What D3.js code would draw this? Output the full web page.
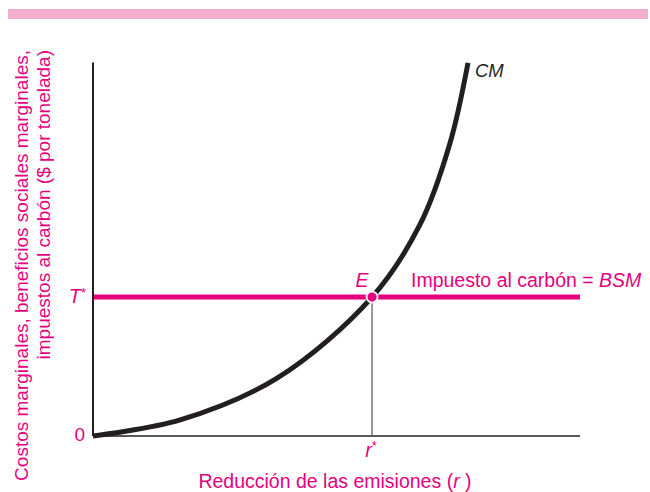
<!DOCTYPE html>
<html><head><meta charset="utf-8">
<script src="https://cdn.jsdelivr.net/npm/d3@7"></script>
<style>body{margin:0;background:#fff}svg{display:block}text{font-family:"Liberation Sans",Arial,sans-serif}</style>
</head><body>
<script>
// Data (abstract units: x = emission reduction 0-100, y = $/ton 0-100)
const cmX = [0, 17.9, 37.8, 57.3, 67.1, 73.3, 77.0];
const cmY = [0, 4.3, 15.5, 37.2, 56.5, 78.4, 99.9];
const taxLevel = [37.2];
const rStar = [57.3];
const xTickLabels = ["r*"];
const yTickLabels = ["0", "T*"];

const W = 650, H = 492;
const svg = d3.select("body").append("svg").attr("width", W).attr("height", H);
const pink = "#e6007e";

const x = d3.scaleLinear().domain([0, 100]).range([93, 580]);
const y = d3.scaleLinear().domain([0, 100]).range([436, 62.5]);

// top band
svg.append("rect").attr("x", 8).attr("y", 9).attr("width", 640).attr("height", 10).attr("fill", "#f3aecd");

// axes lines
svg.append("line").attr("x1", x(0)).attr("x2", x(0)).attr("y1", y(100)).attr("y2", y(0))
  .attr("stroke", "#231f20").attr("stroke-width", 2);
svg.append("line").attr("x1", x(0)).attr("x2", x(100)).attr("y1", y(0)).attr("y2", y(0))
  .attr("stroke", "#231f20").attr("stroke-width", 1.5);

// r* drop line
svg.append("line").attr("x1", x(rStar[0])).attr("x2", x(rStar[0])).attr("y1", y(taxLevel[0])).attr("y2", y(0))
  .attr("stroke", "#555").attr("stroke-width", 1.2);

// tax line
svg.append("line").attr("x1", x(0) + 1).attr("x2", x(100)).attr("y1", y(taxLevel[0])).attr("y2", y(taxLevel[0]))
  .attr("stroke", pink).attr("stroke-width", 5);

// CM curve
const pts = cmX.map((d, i) => [d, cmY[i]]);
svg.append("path").datum(pts)
  .attr("d", d3.line().x(d => x(d[0])).y(d => y(d[1])).curve(d3.curveCatmullRom.alpha(0.5)))
  .attr("fill", "none").attr("stroke", "#231f20").attr("stroke-width", 5).attr("stroke-linecap", "butt");

// point E
svg.append("circle").attr("cx", x(rStar[0])).attr("cy", y(taxLevel[0])).attr("r", 5.5)
  .attr("fill", pink).attr("stroke", "#fff").attr("stroke-width", 1.8);

// tick labels
svg.append("text").attr("x", 85).attr("y", 441).attr("text-anchor", "end")
  .attr("fill", pink).attr("font-size", 19).text(yTickLabels[0]);
svg.append("text").attr("x", 86).attr("y", 303).attr("text-anchor", "end")
  .attr("fill", pink).attr("font-size", 20).attr("font-style", "italic").text("T")
  .append("tspan").attr("font-size", 13).attr("dy", -6).attr("font-style", "normal").text("*");
svg.append("text").attr("x", x(rStar[0]) - 1).attr("y", 457).attr("text-anchor", "middle")
  .attr("fill", pink).attr("font-size", 20).attr("font-style", "italic").text("r")
  .append("tspan").attr("font-size", 13).attr("dy", -7).attr("font-style", "normal").text("*");

// labels
svg.append("text").attr("x", 362).attr("y", 287).attr("text-anchor", "middle")
  .attr("fill", pink).attr("font-size", 19.5).attr("font-style", "italic").text("E");
const lab = svg.append("text").attr("x", 411).attr("y", 287).attr("fill", pink).attr("font-size", 19.5);
lab.append("tspan").text("Impuesto al carbón = ");
lab.append("tspan").attr("font-style", "italic").text("BSM");
svg.append("text").attr("x", 475).attr("y", 77).attr("fill", "#231f20").attr("font-size", 18.5)
  .attr("font-style", "italic").text("CM");

// x axis title
const xt = svg.append("text").attr("x", 335).attr("y", 488).attr("text-anchor", "middle")
  .attr("fill", pink).attr("font-size", 19.5);
xt.append("tspan").text("Reducción de las emisiones (");
xt.append("tspan").attr("font-style", "italic").text("r");
xt.append("tspan").text(" )");

// y axis title
svg.append("text").attr("transform", "translate(28,50) rotate(-90)").attr("text-anchor", "end")
  .attr("fill", pink).attr("font-size", 19).text("Costos marginales, beneficios sociales marginales,");
svg.append("text").attr("transform", "translate(50,50) rotate(-90)").attr("text-anchor", "end")
  .attr("fill", pink).attr("font-size", 19).text("impuestos al carbón ($ por tonelada)");
</script>
</body></html>
